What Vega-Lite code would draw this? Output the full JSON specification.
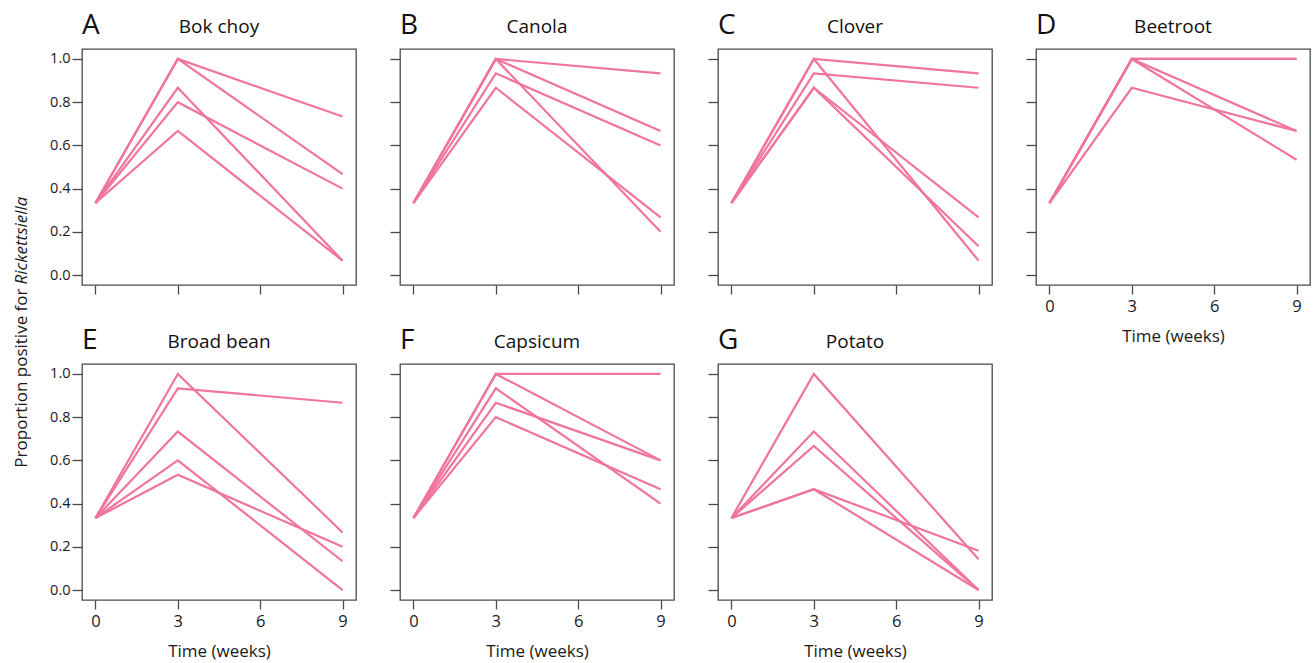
{
  "$schema": "https://vega.github.io/schema/vega-lite/v6.json",
  "padding": {"left": 11, "top": 11, "right": 2, "bottom": 2},
  "background": "white",
  "datasets": {
    "d": [
      {"crop":"Bok choy","rep":1,"week":0,"p":0.3333},{"crop":"Bok choy","rep":1,"week":3,"p":1},{"crop":"Bok choy","rep":1,"week":9,"p":0.7333},
      {"crop":"Bok choy","rep":2,"week":0,"p":0.3333},{"crop":"Bok choy","rep":2,"week":3,"p":1},{"crop":"Bok choy","rep":2,"week":9,"p":0.4667},
      {"crop":"Bok choy","rep":3,"week":0,"p":0.3333},{"crop":"Bok choy","rep":3,"week":3,"p":0.8667},{"crop":"Bok choy","rep":3,"week":9,"p":0.0667},
      {"crop":"Bok choy","rep":4,"week":0,"p":0.3333},{"crop":"Bok choy","rep":4,"week":3,"p":0.8},{"crop":"Bok choy","rep":4,"week":9,"p":0.4},
      {"crop":"Bok choy","rep":5,"week":0,"p":0.3333},{"crop":"Bok choy","rep":5,"week":3,"p":0.6667},{"crop":"Bok choy","rep":5,"week":9,"p":0.0667},

      {"crop":"Canola","rep":1,"week":0,"p":0.3333},{"crop":"Canola","rep":1,"week":3,"p":1},{"crop":"Canola","rep":1,"week":9,"p":0.9333},
      {"crop":"Canola","rep":2,"week":0,"p":0.3333},{"crop":"Canola","rep":2,"week":3,"p":1},{"crop":"Canola","rep":2,"week":9,"p":0.6667},
      {"crop":"Canola","rep":3,"week":0,"p":0.3333},{"crop":"Canola","rep":3,"week":3,"p":0.9333},{"crop":"Canola","rep":3,"week":9,"p":0.6},
      {"crop":"Canola","rep":4,"week":0,"p":0.3333},{"crop":"Canola","rep":4,"week":3,"p":1},{"crop":"Canola","rep":4,"week":9,"p":0.2},
      {"crop":"Canola","rep":5,"week":0,"p":0.3333},{"crop":"Canola","rep":5,"week":3,"p":0.8667},{"crop":"Canola","rep":5,"week":9,"p":0.2667},

      {"crop":"Clover","rep":1,"week":0,"p":0.3333},{"crop":"Clover","rep":1,"week":3,"p":1},{"crop":"Clover","rep":1,"week":9,"p":0.9333},
      {"crop":"Clover","rep":2,"week":0,"p":0.3333},{"crop":"Clover","rep":2,"week":3,"p":0.9333},{"crop":"Clover","rep":2,"week":9,"p":0.8667},
      {"crop":"Clover","rep":3,"week":0,"p":0.3333},{"crop":"Clover","rep":3,"week":3,"p":1},{"crop":"Clover","rep":3,"week":9,"p":0.0667},
      {"crop":"Clover","rep":4,"week":0,"p":0.3333},{"crop":"Clover","rep":4,"week":3,"p":0.8667},{"crop":"Clover","rep":4,"week":9,"p":0.2667},
      {"crop":"Clover","rep":5,"week":0,"p":0.3333},{"crop":"Clover","rep":5,"week":3,"p":0.8667},{"crop":"Clover","rep":5,"week":9,"p":0.1333},

      {"crop":"Beetroot","rep":1,"week":0,"p":0.3333},{"crop":"Beetroot","rep":1,"week":3,"p":1},{"crop":"Beetroot","rep":1,"week":9,"p":1},
      {"crop":"Beetroot","rep":2,"week":0,"p":0.3333},{"crop":"Beetroot","rep":2,"week":3,"p":1},{"crop":"Beetroot","rep":2,"week":9,"p":1},
      {"crop":"Beetroot","rep":3,"week":0,"p":0.3333},{"crop":"Beetroot","rep":3,"week":3,"p":1},{"crop":"Beetroot","rep":3,"week":9,"p":0.6667},
      {"crop":"Beetroot","rep":4,"week":0,"p":0.3333},{"crop":"Beetroot","rep":4,"week":3,"p":1},{"crop":"Beetroot","rep":4,"week":9,"p":0.5333},
      {"crop":"Beetroot","rep":5,"week":0,"p":0.3333},{"crop":"Beetroot","rep":5,"week":3,"p":0.8667},{"crop":"Beetroot","rep":5,"week":9,"p":0.6667},

      {"crop":"Broad bean","rep":1,"week":0,"p":0.3333},{"crop":"Broad bean","rep":1,"week":3,"p":0.9333},{"crop":"Broad bean","rep":1,"week":9,"p":0.8667},
      {"crop":"Broad bean","rep":2,"week":0,"p":0.3333},{"crop":"Broad bean","rep":2,"week":3,"p":1},{"crop":"Broad bean","rep":2,"week":9,"p":0.2667},
      {"crop":"Broad bean","rep":3,"week":0,"p":0.3333},{"crop":"Broad bean","rep":3,"week":3,"p":0.7333},{"crop":"Broad bean","rep":3,"week":9,"p":0.1333},
      {"crop":"Broad bean","rep":4,"week":0,"p":0.3333},{"crop":"Broad bean","rep":4,"week":3,"p":0.6},{"crop":"Broad bean","rep":4,"week":9,"p":0},
      {"crop":"Broad bean","rep":5,"week":0,"p":0.3333},{"crop":"Broad bean","rep":5,"week":3,"p":0.5333},{"crop":"Broad bean","rep":5,"week":9,"p":0.2},

      {"crop":"Capsicum","rep":1,"week":0,"p":0.3333},{"crop":"Capsicum","rep":1,"week":3,"p":1},{"crop":"Capsicum","rep":1,"week":9,"p":1},
      {"crop":"Capsicum","rep":2,"week":0,"p":0.3333},{"crop":"Capsicum","rep":2,"week":3,"p":1},{"crop":"Capsicum","rep":2,"week":9,"p":0.6},
      {"crop":"Capsicum","rep":3,"week":0,"p":0.3333},{"crop":"Capsicum","rep":3,"week":3,"p":0.8667},{"crop":"Capsicum","rep":3,"week":9,"p":0.6},
      {"crop":"Capsicum","rep":4,"week":0,"p":0.3333},{"crop":"Capsicum","rep":4,"week":3,"p":0.9333},{"crop":"Capsicum","rep":4,"week":9,"p":0.4},
      {"crop":"Capsicum","rep":5,"week":0,"p":0.3333},{"crop":"Capsicum","rep":5,"week":3,"p":0.8},{"crop":"Capsicum","rep":5,"week":9,"p":0.4667},

      {"crop":"Potato","rep":1,"week":0,"p":0.3333},{"crop":"Potato","rep":1,"week":3,"p":1},{"crop":"Potato","rep":1,"week":9,"p":0.143},
      {"crop":"Potato","rep":2,"week":0,"p":0.3333},{"crop":"Potato","rep":2,"week":3,"p":0.7333},{"crop":"Potato","rep":2,"week":9,"p":0},
      {"crop":"Potato","rep":3,"week":0,"p":0.3333},{"crop":"Potato","rep":3,"week":3,"p":0.6667},{"crop":"Potato","rep":3,"week":9,"p":0},
      {"crop":"Potato","rep":4,"week":0,"p":0.3333},{"crop":"Potato","rep":4,"week":3,"p":0.4667},{"crop":"Potato","rep":4,"week":9,"p":0.182},
      {"crop":"Potato","rep":5,"week":0,"p":0.3333},{"crop":"Potato","rep":5,"week":3,"p":0.4667},{"crop":"Potato","rep":5,"week":9,"p":0}
    ]
  },
  "columns": 4,
  "spacing": {"row": 79, "column": 44},
  "bounds": "flush",
  "concat": [
    {
      "width": 274, "height": 236,
      "layer": [
        {"data": {"name": "d"}, "transform": [{"filter": "datum.crop === 'Bok choy'"}],
         "mark": {"type": "line"},
         "encoding": {
           "x": {"field": "week", "type": "quantitative", "scale": {"domain": [-0.49, 9.49], "nice": false, "zero": false}, "axis": {"values": [0,3,6,9], "labels": false, "title": null}},
           "y": {"field": "p", "type": "quantitative", "scale": {"domain": [-0.046, 1.046], "nice": false, "zero": false}, "axis": {"values": [0,0.2,0.4,0.6,0.8,1], "format": ".1f", "title": "Rickettsiella", "titleFontStyle": "italic", "titleAngle": 270, "titleAlign": "left", "titleBaseline": "middle", "titleX": -61, "titleY": 235}},
           "detail": {"field": "rep", "type": "nominal"}
         }},
        {"data": {"values": [{"letter": "A", "name": "Bok choy"}]}, "mark": {"type": "text", "align": "left", "baseline": "alphabetic", "dy": -15, "fontSize": 28},
         "encoding": {"x": {"datum": -0.49, "type": "quantitative"}, "y": {"datum": 1.046, "type": "quantitative"}, "text": {"field": "letter"}}},
        {"data": {"values": [{"letter": "A", "name": "Bok choy"}]}, "mark": {"type": "text", "align": "center", "baseline": "alphabetic", "dy": -16, "fontSize": 19},
         "encoding": {"x": {"datum": 4.5, "type": "quantitative"}, "y": {"datum": 1.046, "type": "quantitative"}, "text": {"field": "name"}}}
      ]
    },
    {
      "width": 274, "height": 236,
      "layer": [
        {"data": {"name": "d"}, "transform": [{"filter": "datum.crop === 'Canola'"}],
         "mark": {"type": "line"},
         "encoding": {
           "x": {"field": "week", "type": "quantitative", "scale": {"domain": [-0.49, 9.49], "nice": false, "zero": false}, "axis": {"values": [0,3,6,9], "labels": false, "title": null}},
           "y": {"field": "p", "type": "quantitative", "scale": {"domain": [-0.046, 1.046], "nice": false, "zero": false}, "axis": {"values": [0,0.2,0.4,0.6,0.8,1], "labels": false, "title": null}},
           "detail": {"field": "rep", "type": "nominal"}
         }},
        {"data": {"values": [{"letter": "B", "name": "Canola"}]}, "mark": {"type": "text", "align": "left", "baseline": "alphabetic", "dy": -15, "fontSize": 28},
         "encoding": {"x": {"datum": -0.49, "type": "quantitative"}, "y": {"datum": 1.046, "type": "quantitative"}, "text": {"field": "letter"}}},
        {"data": {"values": [{"letter": "B", "name": "Canola"}]}, "mark": {"type": "text", "align": "center", "baseline": "alphabetic", "dy": -16, "fontSize": 19},
         "encoding": {"x": {"datum": 4.5, "type": "quantitative"}, "y": {"datum": 1.046, "type": "quantitative"}, "text": {"field": "name"}}}
      ]
    },
    {
      "width": 274, "height": 236,
      "layer": [
        {"data": {"name": "d"}, "transform": [{"filter": "datum.crop === 'Clover'"}],
         "mark": {"type": "line"},
         "encoding": {
           "x": {"field": "week", "type": "quantitative", "scale": {"domain": [-0.49, 9.49], "nice": false, "zero": false}, "axis": {"values": [0,3,6,9], "labels": false, "title": null}},
           "y": {"field": "p", "type": "quantitative", "scale": {"domain": [-0.046, 1.046], "nice": false, "zero": false}, "axis": {"values": [0,0.2,0.4,0.6,0.8,1], "labels": false, "title": null}},
           "detail": {"field": "rep", "type": "nominal"}
         }},
        {"data": {"values": [{"letter": "C", "name": "Clover"}]}, "mark": {"type": "text", "align": "left", "baseline": "alphabetic", "dy": -15, "fontSize": 28},
         "encoding": {"x": {"datum": -0.49, "type": "quantitative"}, "y": {"datum": 1.046, "type": "quantitative"}, "text": {"field": "letter"}}},
        {"data": {"values": [{"letter": "C", "name": "Clover"}]}, "mark": {"type": "text", "align": "center", "baseline": "alphabetic", "dy": -16, "fontSize": 19},
         "encoding": {"x": {"datum": 4.5, "type": "quantitative"}, "y": {"datum": 1.046, "type": "quantitative"}, "text": {"field": "name"}}}
      ]
    },
    {
      "width": 274, "height": 236,
      "layer": [
        {"data": {"name": "d"}, "transform": [{"filter": "datum.crop === 'Beetroot'"}],
         "mark": {"type": "line"},
         "encoding": {
           "x": {"field": "week", "type": "quantitative", "scale": {"domain": [-0.49, 9.49], "nice": false, "zero": false}, "axis": {"values": [0,3,6,9], "title": "Time (weeks)"}},
           "y": {"field": "p", "type": "quantitative", "scale": {"domain": [-0.046, 1.046], "nice": false, "zero": false}, "axis": {"values": [0,0.2,0.4,0.6,0.8,1], "labels": false, "title": null}},
           "detail": {"field": "rep", "type": "nominal"}
         }},
        {"data": {"values": [{"letter": "D", "name": "Beetroot"}]}, "mark": {"type": "text", "align": "left", "baseline": "alphabetic", "dy": -15, "fontSize": 28},
         "encoding": {"x": {"datum": -0.49, "type": "quantitative"}, "y": {"datum": 1.046, "type": "quantitative"}, "text": {"field": "letter"}}},
        {"data": {"values": [{"letter": "D", "name": "Beetroot"}]}, "mark": {"type": "text", "align": "center", "baseline": "alphabetic", "dy": -16, "fontSize": 19},
         "encoding": {"x": {"datum": 4.5, "type": "quantitative"}, "y": {"datum": 1.046, "type": "quantitative"}, "text": {"field": "name"}}}
      ]
    },
    {
      "width": 274, "height": 236,
      "layer": [
        {"data": {"name": "d"}, "transform": [{"filter": "datum.crop === 'Broad bean'"}],
         "mark": {"type": "line"},
         "encoding": {
           "x": {"field": "week", "type": "quantitative", "scale": {"domain": [-0.49, 9.49], "nice": false, "zero": false}, "axis": {"values": [0,3,6,9], "title": "Time (weeks)"}},
           "y": {"field": "p", "type": "quantitative", "scale": {"domain": [-0.046, 1.046], "nice": false, "zero": false}, "axis": {"values": [0,0.2,0.4,0.6,0.8,1], "format": ".1f", "title": "Proportion positive for", "titleAngle": 270, "titleAlign": "right", "titleBaseline": "middle", "titleX": -61, "titleY": -76}},
           "detail": {"field": "rep", "type": "nominal"}
         }},
        {"data": {"values": [{"letter": "E", "name": "Broad bean"}]}, "mark": {"type": "text", "align": "left", "baseline": "alphabetic", "dy": -15, "fontSize": 28},
         "encoding": {"x": {"datum": -0.49, "type": "quantitative"}, "y": {"datum": 1.046, "type": "quantitative"}, "text": {"field": "letter"}}},
        {"data": {"values": [{"letter": "E", "name": "Broad bean"}]}, "mark": {"type": "text", "align": "center", "baseline": "alphabetic", "dy": -16, "fontSize": 19},
         "encoding": {"x": {"datum": 4.5, "type": "quantitative"}, "y": {"datum": 1.046, "type": "quantitative"}, "text": {"field": "name"}}}
      ]
    },
    {
      "width": 274, "height": 236,
      "layer": [
        {"data": {"name": "d"}, "transform": [{"filter": "datum.crop === 'Capsicum'"}],
         "mark": {"type": "line"},
         "encoding": {
           "x": {"field": "week", "type": "quantitative", "scale": {"domain": [-0.49, 9.49], "nice": false, "zero": false}, "axis": {"values": [0,3,6,9], "title": "Time (weeks)"}},
           "y": {"field": "p", "type": "quantitative", "scale": {"domain": [-0.046, 1.046], "nice": false, "zero": false}, "axis": {"values": [0,0.2,0.4,0.6,0.8,1], "labels": false, "title": null}},
           "detail": {"field": "rep", "type": "nominal"}
         }},
        {"data": {"values": [{"letter": "F", "name": "Capsicum"}]}, "mark": {"type": "text", "align": "left", "baseline": "alphabetic", "dy": -15, "fontSize": 28},
         "encoding": {"x": {"datum": -0.49, "type": "quantitative"}, "y": {"datum": 1.046, "type": "quantitative"}, "text": {"field": "letter"}}},
        {"data": {"values": [{"letter": "F", "name": "Capsicum"}]}, "mark": {"type": "text", "align": "center", "baseline": "alphabetic", "dy": -16, "fontSize": 19},
         "encoding": {"x": {"datum": 4.5, "type": "quantitative"}, "y": {"datum": 1.046, "type": "quantitative"}, "text": {"field": "name"}}}
      ]
    },
    {
      "width": 274, "height": 236,
      "layer": [
        {"data": {"name": "d"}, "transform": [{"filter": "datum.crop === 'Potato'"}],
         "mark": {"type": "line"},
         "encoding": {
           "x": {"field": "week", "type": "quantitative", "scale": {"domain": [-0.49, 9.49], "nice": false, "zero": false}, "axis": {"values": [0,3,6,9], "title": "Time (weeks)"}},
           "y": {"field": "p", "type": "quantitative", "scale": {"domain": [-0.046, 1.046], "nice": false, "zero": false}, "axis": {"values": [0,0.2,0.4,0.6,0.8,1], "labels": false, "title": null}},
           "detail": {"field": "rep", "type": "nominal"}
         }},
        {"data": {"values": [{"letter": "G", "name": "Potato"}]}, "mark": {"type": "text", "align": "left", "baseline": "alphabetic", "dy": -15, "fontSize": 28},
         "encoding": {"x": {"datum": -0.49, "type": "quantitative"}, "y": {"datum": 1.046, "type": "quantitative"}, "text": {"field": "letter"}}},
        {"data": {"values": [{"letter": "G", "name": "Potato"}]}, "mark": {"type": "text", "align": "center", "baseline": "alphabetic", "dy": -16, "fontSize": 19},
         "encoding": {"x": {"datum": 4.5, "type": "quantitative"}, "y": {"datum": 1.046, "type": "quantitative"}, "text": {"field": "name"}}}
      ]
    }
  ],
  "config": {
    "font": "Open Sans",
    "view": {"stroke": "#4a4a4a", "strokeWidth": 1.3},
    "axis": {"domain": false, "grid": false, "ticks": true, "tickColor": "#4a4a4a", "tickWidth": 1.3, "labelColor": "#1a1a1a", "titleFontSize": 17, "titleFontWeight": "normal", "titleColor": "#1a1a1a"},
    "axisX": {"tickSize": 9, "labelPadding": 4, "labelFontSize": 16.5, "titlePadding": 14},
    "axisY": {"tickSize": 10, "labelPadding": 2, "labelFontSize": 14.5},
    "line": {"color": "#F0749D", "strokeWidth": 2.2},
    "text": {"color": "#111111"}
  }
}
